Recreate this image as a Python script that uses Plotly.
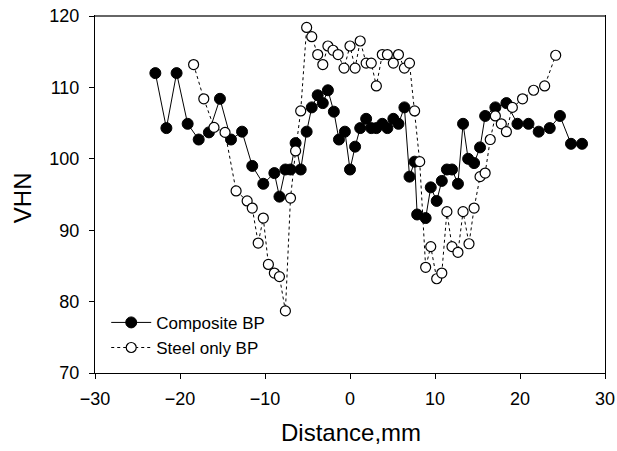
import plotly.graph_objects as go

comp_x = [-22.9, -21.6, -20.4, -19.1, -17.8, -16.6, -15.3, -14.0, -12.7, -11.5,
          -10.2, -8.9, -8.3, -7.6, -7.0, -6.4, -5.8, -5.1, -4.5, -3.8,
          -3.2, -2.6, -1.9, -1.3, -0.6, 0.0, 0.6, 1.2, 1.9, 2.5,
          3.1, 3.8, 4.4, 5.1, 5.7, 6.4, 7.0, 7.6, 7.9, 8.9,
          9.5, 10.2, 10.8, 11.4, 12.0, 12.7, 13.3, 13.9, 14.6, 15.3,
          15.9, 17.1, 18.4, 19.7, 21.0, 22.2, 23.5, 24.7, 26.0, 27.3]
comp_y = [112.0, 104.3, 112.0, 104.9, 102.7, 103.7, 108.4, 102.7, 103.8, 99.0,
          96.5, 98.0, 94.7, 98.5, 98.5, 102.2, 98.5, 103.8, 107.2, 108.9,
          107.8, 109.6, 106.6, 102.7, 103.8, 98.5, 101.7, 104.3, 105.6, 104.3,
          104.3, 104.9, 104.3, 105.6, 104.9, 107.2, 97.5, 99.6, 92.2, 91.7,
          96.0, 94.1, 96.9, 98.5, 98.5, 96.5, 104.9, 100.0, 99.4, 101.6,
          106.0, 107.2, 107.8, 104.9, 104.9, 103.8, 104.3, 106.0, 102.1, 102.1]

steel_x = [-18.4, -17.2, -16.0, -14.7, -13.4, -12.1, -11.5, -10.8, -10.2, -9.6,
           -8.9, -8.3, -7.6, -7.0, -6.4, -5.8, -5.1, -4.5, -3.8, -3.2,
           -2.6, -2.0, -1.4, -0.7, 0.0, 0.6, 1.2, 1.9, 2.5, 3.1,
           3.8, 4.4, 5.1, 5.7, 6.4, 7.0, 7.6, 8.2, 8.9, 9.5,
           10.2, 10.8, 11.4, 12.0, 12.7, 13.3, 14.0, 14.6, 15.3, 15.9,
           16.5, 17.1, 17.8, 18.4, 19.1, 20.3, 21.6, 22.9, 24.2]
steel_y = [113.2, 108.4, 104.4, 103.7, 95.5, 94.1, 93.1, 88.2, 91.7, 85.2,
           84.0, 83.5, 78.7, 94.5, 101.1, 106.7, 118.4, 117.1, 114.6, 113.2,
           115.8, 115.2, 114.6, 112.7, 115.8, 112.7, 116.5, 113.4, 113.4, 110.2,
           114.6, 114.6, 113.4, 114.6, 112.7, 113.4, 106.7, 99.6, 84.8, 87.7,
           83.2, 84.0, 92.6, 87.7, 86.9, 92.6, 88.1, 93.1, 97.5, 98.0,
           102.7, 106.0, 104.9, 103.8, 107.2, 108.4, 109.6, 110.2, 114.5]

x_ticks = [-30, -20, -10, 0, 10, 20, 30]
y_ticks = [70, 80, 90, 100, 110, 120]

FONT = "Liberation Sans, Arial, sans-serif"

fig = go.Figure()
fig.add_trace(go.Scatter(
    x=comp_x, y=comp_y, mode="lines+markers", name="Composite BP",
    line=dict(color="black", width=1),
    marker=dict(symbol="circle", size=11, color="black", line=dict(color="black", width=1)),
))
fig.add_trace(go.Scatter(
    x=steel_x, y=steel_y, mode="lines+markers", name="Steel only BP",
    line=dict(color="black", width=1, dash="dot"),
    marker=dict(symbol="circle", size=10, color="white", line=dict(color="black", width=1.2)),
))

axis_common = dict(
    showgrid=False, zeroline=False, showline=True, linecolor="black", linewidth=1,
    ticks="outside", ticklen=5, tickcolor="black", tickwidth=1, automargin=False,
    tickfont=dict(family=FONT, size=18, color="black"),
)
fig.update_xaxes(range=[-30, 30], tickvals=x_ticks, mirror=True, ticklabelstandoff=4, **axis_common)
fig.update_yaxes(range=[70, 120], tickvals=y_ticks, mirror=True, ticklabelstandoff=6, **axis_common)

# gray top border
fig.add_shape(type="line", xref="paper", yref="paper", x0=0, x1=1, y0=1, y1=1,
              line=dict(color="#666666", width=2))

fig.add_annotation(text="Distance,mm", xref="paper", yref="paper", x=0.502, y=-0.168,
                   xanchor="center", yanchor="middle", showarrow=False,
                   font=dict(family=FONT, size=24, color="black"))
fig.add_annotation(text="VHN", xref="paper", yref="paper", x=-0.143, y=0.49,
                   xanchor="center", yanchor="middle", showarrow=False, textangle=-90,
                   font=dict(family=FONT, size=24, color="black"))

fig.update_layout(
    width=617, height=451,
    margin=dict(l=95, r=12, t=16, b=78),
    paper_bgcolor="white", plot_bgcolor="white",
    font=dict(family=FONT, color="black"),
    showlegend=True,
    legend=dict(x=0.022, y=0.02, xanchor="left", yanchor="bottom",
                bgcolor="rgba(0,0,0,0)", font=dict(family=FONT, size=17, color="black"),
                tracegroupgap=0, itemwidth=40),
)

fig.write_html("out.html")
